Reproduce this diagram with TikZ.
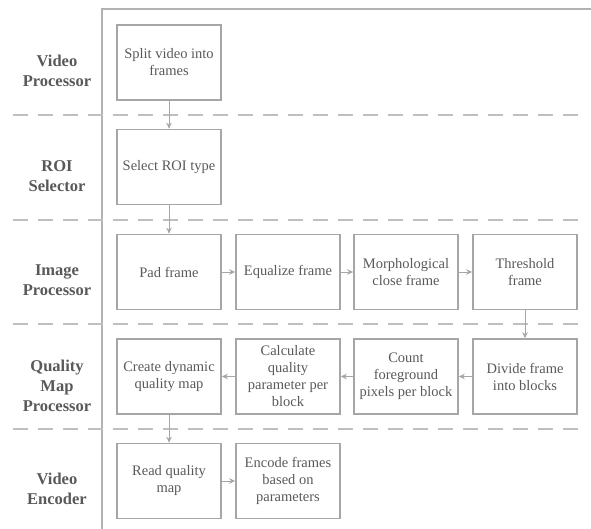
\documentclass[tikz,border=0pt]{standalone}
\usepackage{fontspec}
\setmainfont{Liberation Serif}
\usetikzlibrary{arrows.meta}
\definecolor{boxgray}{HTML}{A6A6A6}
\definecolor{txtgray}{HTML}{595959}
\definecolor{lanegray}{HTML}{BFBFBF}
\begin{document}
\begin{tikzpicture}[x=1bp,y=-1bp,>={Stealth[length=6bp,width=5.5bp]},
  every node/.style={font=\fontsize{14.5bp}{17bp}\selectfont,text=txtgray},
  stage/.style={draw=boxgray,line width=1.6bp,minimum width=104bp,minimum height=75bp,align=center,inner sep=1bp},
  lane/.style={font=\fontsize{16.5bp}{20bp}\selectfont\bfseries,align=center},
  flow/.style={->,draw=boxgray,line width=0.9bp},
  sep/.style={draw=lanegray,line width=1.2bp,dash pattern=on 15bp off 10bp}]
  \useasboundingbox (0,0) rectangle (591,529);
  % outer frame and lane separators
  \draw[draw=lanegray!80!gray,line width=1.6bp] (102,529) -- (102,9) -- (591,9);
  \foreach \y in {115,220,324,429}
    \draw[sep] (13,\y) -- (583,\y);
  % lane titles
  \node[lane] (lvid) at (57,71) {Video\\Processor};
  \node[lane] (lroi) at (57,176) {ROI\\Selector};
  \node[lane] (limg) at (57,280) {Image\\Processor};
  \node[lane] (lmap) at (57,386) {Quality\\Map\\Processor};
  \node[lane] (lenc) at (57,489) {Video\\Encoder};
  % steps
  \node[stage] (split) at (169,62.5) {Split video into\\frames};
  \node[stage] (roi) at (169,167) {Select ROI type};
  \node[stage] (pad) at (169,272) {Pad frame};
  \node[stage] (equal) at (288,272) {Equalize frame};
  \node[stage] (morph) at (406,272) {Morphological\\close frame};
  \node[stage] (thresh) at (525,272) {Threshold\\frame};
  \node[stage] (divide) at (525,376.5) {Divide frame\\into blocks};
  \node[stage] (count) at (406,376.5) {Count\\foreground\\pixels per block};
  \node[stage] (calc) at (288,376.5) {Calculate\\quality\\parameter per\\block};
  \node[stage] (create) at (169,376.5) {Create dynamic\\quality map};
  \node[stage] (read) at (169,481) {Read quality\\map};
  \node[stage] (encode) at (288,481) {Encode frames\\based on\\parameters};
  % connectors
  \draw[flow] (split) -- (roi);
  \draw[flow] (roi) -- (pad);
  \draw[flow] (pad) -- (equal);
  \draw[flow] (equal) -- (morph);
  \draw[flow] (morph) -- (thresh);
  \draw[flow] (thresh) -- (divide);
  \draw[flow] (divide) -- (count);
  \draw[flow] (count) -- (calc);
  \draw[flow] (calc) -- (create);
  \draw[flow] (create) -- (read);
  \draw[flow] (read) -- (encode);
\end{tikzpicture}
\end{document}
